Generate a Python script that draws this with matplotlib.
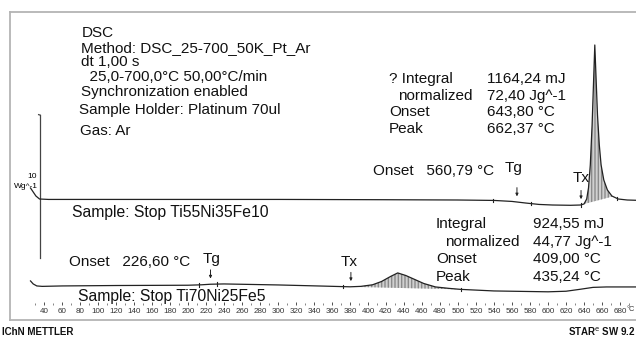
import numpy as np
import matplotlib
matplotlib.use("Agg")
import matplotlib.pyplot as plt
from matplotlib.lines import Line2D

plt.rcParams['font.family'] = ['Liberation Sans', 'DejaVu Sans']

# ---------------- data ----------------
# Upper curve: Ti55Ni35Fe10 (heat flow, W/g, exo up, relative)
t_top = [25, 28, 31, 35, 45, 150, 300, 420, 500, 540, 560, 575, 590, 605, 625, 636,
         640, 643, 645, 647, 649, 650.5, 652, 653.5, 655, 657, 659, 662, 666, 671, 678, 688, 698]
hf_top = [0.77, 0.49, 0.21, 0.0, -0.03, -0.03, -0.03, -0.05, -0.07, -0.10, -0.17, -0.28, -0.38,
          -0.42, -0.44, -0.42, -0.35, 0.0, 0.77, 2.38, 5.17, 7.97, 10.77, 8.32, 5.87, 3.78,
          2.38, 1.33, 0.63, 0.21, 0.0, -0.07, -0.09]

# Lower curve: Ti70Ni25Fe5
t_bot = [25, 28, 32, 38, 60, 120, 200, 215, 225, 240, 300, 350, 380, 392, 405, 415, 425, 433,
         442, 452, 462, 475, 490, 503, 540, 600, 620, 635, 650, 665, 698]
hf_bot = [0.35, 0.14, 0.0, -0.03, 0.0, 0.03, 0.05, 0.08, 0.12, 0.14, 0.07, -0.01, -0.06, -0.03,
          0.08, 0.31, 0.66, 0.91, 0.73, 0.45, 0.17, -0.07, -0.17, -0.24, -0.35, -0.41, -0.37,
          -0.24, -0.10, -0.07, -0.07]
bot_offset = -6.08

# integration limits (°C)
top_peak_limits = [640, 672]
bot_peak_limits = [372, 503]
top_marks = [539, 581, 636.7, 676.7]
bot_marks = [212, 232, 372, 503]
tg_top, tx_top = 565.5, 636.7
tg_bot, tx_bot = 225, 381

xticks = list(range(40, 700, 20))
xtick_labels = [str(v) for v in xticks]
x_unit = "°C"

# ---------------- figure ----------------
W, H = 636, 340
fig = plt.figure(figsize=(W / 100, H / 100), dpi=100)
fig.patch.set_facecolor('white')

def fp(x, y):
    return (x / W, 1 - y / H)

ax = fig.add_axes([0, 0, 1, 1])
ax.set_xlim(-8.89, 697.78)
ax.set_ylim(-9.86, 13.916)
ax.axis('off')

t_top_a = np.array(t_top); hf_top_a = np.array(hf_top)
t_bot_a = np.array(t_bot); hf_bot_a = np.array(hf_bot) + bot_offset

ax.plot(t_top_a, hf_top_a, color='#222222', lw=0.9, zorder=3)
ax.plot(t_bot_a, hf_bot_a, color='#222222', lw=0.9, zorder=3)

# peak fills
def fill_peak(tt, hh, lims):
    xs = np.linspace(lims[0], lims[1], 200)
    ys = np.interp(xs, tt, hh)
    b0, b1 = np.interp(lims[0], tt, hh), np.interp(lims[1], tt, hh)
    base = b0 + (b1 - b0) * (xs - lims[0]) / (lims[1] - lims[0])
    ax.fill_between(xs, base, ys, where=ys > base, facecolor='#d0d0d0',
                    edgecolor='#8a8a8a', hatch='|||||', lw=0, zorder=2)

fill_peak(t_top_a, hf_top_a, top_peak_limits)
fill_peak(t_bot_a, hf_bot_a, bot_peak_limits)

# small integration-limit marks
for tm in top_marks:
    v = np.interp(tm, t_top_a, hf_top_a)
    ax.plot([tm, tm], [v - 0.12, v + 0.12], color='#222222', lw=0.8, zorder=4)
for tm in bot_marks:
    v = np.interp(tm, t_bot_a, hf_bot_a)
    ax.plot([tm, tm], [v - 0.12, v + 0.12], color='#222222', lw=0.8, zorder=4)

# arrows for Tg / Tx
def arrow(t, tt, hh, length=1.0):
    v = np.interp(t, tt, hh) + 0.2
    ax.annotate('', xy=(t, v), xytext=(t, v + length),
                arrowprops=dict(arrowstyle='-|>', color='#222222', lw=0.7,
                                mutation_scale=4))

arrow(tg_top, t_top_a, hf_top_a)
arrow(tx_top, t_top_a, hf_top_a)
arrow(tg_bot, t_bot_a, hf_bot_a)
arrow(tx_bot, t_bot_a, hf_bot_a)

# scale bar 10 W/g
ax.plot([35.6, 35.6], [-4.13, 5.87], color='#444444', lw=0.9)
ax.plot([34.0, 35.6], [5.90, 5.87], color='#444444', lw=0.9)
ax.text(*fp(37, 177), '10', transform=fig.transFigure, fontsize=6, ha='right', va='center')
ax.text(*fp(38, 186), 'Wg^-1', transform=fig.transFigure, fontsize=6, ha='right', va='center')

# frame
fc = '#b4b4b4'
fig.add_artist(Line2D([10 / W, 1], [1 - 11.5 / H] * 2, color=fc, lw=1.3))
fig.add_artist(Line2D([10 / W] * 2, [1 - 11.5 / H, 1 - 320 / H], color=fc, lw=1.3))
fig.add_artist(Line2D([10 / W, 1], [1 - 320 / H] * 2, color=fc, lw=1.3))

# temperature axis
ax2 = fig.add_axes([0, 1 - 305 / H, 1, 0.001])
ax2.set_xlim(-8.89, 697.78)
ax2.set_ylim(0, 1)
for s in ax2.spines.values():
    s.set_visible(False)
ax2.set_yticks([])
ax2.set_xticks(xticks)
ax2.set_xticklabels(xtick_labels)
ax2.set_xticks(list(range(30, 700, 20)), minor=True)
ax2.tick_params(axis='x', which='major', direction='in', length=2.5, width=0.6,
                labelsize=5.8, pad=2.0, colors='#333333')
ax2.tick_params(axis='x', which='minor', direction='in', length=1.5, width=0.5, colors='#555555')
ax2.patch.set_visible(False)
fig.text(*fp(635, 309.5), x_unit, ha='right', va='center', fontsize=5.3, color='#333333')

# ---------------- texts ----------------
fs = 11
def t(x, y, s, **kw):
    kw.setdefault('fontsize', fs)
    fig.text(*fp(x, y), s, ha='left', va='center', color='#111111', **kw)

t(82, 33, 'DSC')
t(81, 48, 'Method: DSC_25-700_50K_Pt_Ar')
t(81, 62, 'dt 1,00 s')
t(81, 77, '  25,0-700,0°C 50,00°C/min')
t(81, 92, 'Synchronization enabled')
t(79, 110, 'Sample Holder: Platinum 70ul')
t(80, 131, 'Gas: Ar')

t(389, 79, '? Integral')
t(398, 96, 'normalized')
t(389, 112, 'Onset')
t(389, 129, 'Peak')
t(487, 79, '1164,24 mJ')
t(487, 96, '72,40 Jg^-1')
t(487, 112, '643,80 °C')
t(487, 129, '662,37 °C')

t(373, 171, 'Onset   560,79 °C')
t(505, 168, 'Tg')
t(573, 178, 'Tx')

t(72, 212, 'Sample: Stop Ti55Ni35Fe10', fontsize=11.3)

t(436, 224, 'Integral')
t(445, 242, 'normalized')
t(436, 259, 'Onset')
t(436, 277, 'Peak')
t(533, 224, '924,55 mJ')
t(533, 242, '44,77 Jg^-1')
t(533, 259, '409,00 °C')
t(533, 277, '435,24 °C')

t(69, 262, 'Onset   226,60 °C')
t(203, 259, 'Tg')
t(341, 262, 'Tx')

t(78, 296, 'Sample: Stop Ti70Ni25Fe5', fontsize=11.3)

fig.text(*fp(2, 332), 'IChN METTLER', ha='left', va='center', fontsize=7,
         fontweight='bold', color='#111111')
fig.text(*fp(636, 332), r'STAR$^{\mathrm{e}}$ SW 9.2', ha='right', va='center', fontsize=7,
         fontweight='bold', color='#111111')

fig.savefig('out.png', dpi=100, facecolor='white')
